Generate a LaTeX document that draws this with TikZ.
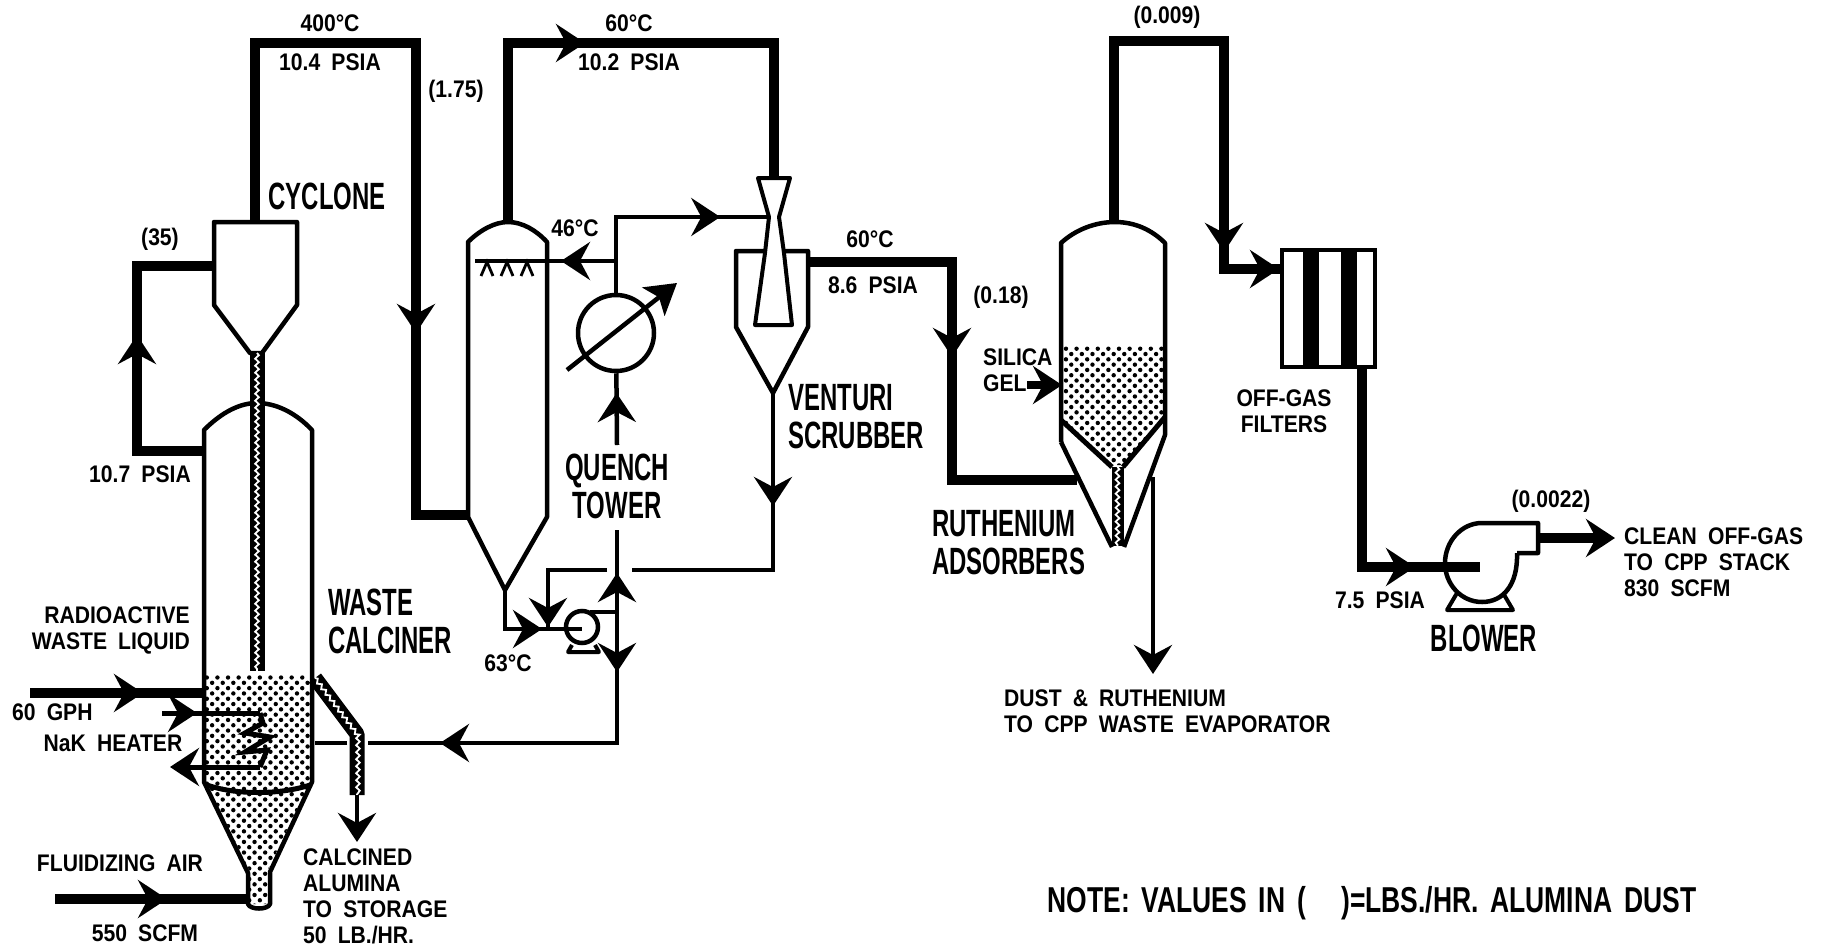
\documentclass[tikz,border=0pt]{standalone}
\usepackage{fontspec}
\usepackage{tikz}
\usetikzlibrary{
    arrows.meta,
    positioning,
    patterns.meta,
    decorations.markings,
    decorations.pathmorphing
}
\newfontfamily\tagfont{Liberation Sans}[FakeStretch=0.88,WordSpace=1.9]
\newfontfamily\bigfont{Liberation Sans}[FakeStretch=0.63]
\newfontfamily\notefont{Liberation Sans}[FakeStretch=0.735,WordSpace=1.6]
\tikzset{flowtip/.tip={Stealth[length=29pt,width=38pt,inset=10pt]}}

\begin{document}
\begin{tikzpicture}[
    x=1pt, y=-1pt,
    tag/.style={inner sep=0pt, align=left, font=\tagfont\bfseries\fontsize{24}{26}\selectfont},
    bigtag/.style={inner sep=0pt, align=left, font=\bigfont\bfseries\fontsize{38}{38}\selectfont},
    vessel/.style={draw, line width=4.5pt, line join=round, fill=white},
    bedfill/.style={pattern={Dots[distance=7.5pt,radius=2.2pt,angle=45]}},
    pipe/.style={draw, line width=10pt, line join=miter},
    flowline/.style={draw, line width=4.5pt, line join=miter},
    solidsline/.style={draw, line width=15pt, line join=round},
    wavy/.style={draw=white, line width=1.8pt, decorate, decoration={snake, amplitude=1.8pt, segment length=7pt}},
    flowmark/.style={postaction={decorate, decoration={markings, mark=at position #1 with {\arrow{flowtip}}}}}
]
\useasboundingbox (0,0) rectangle (1826,948);

% Cyclone
\draw[vessel] (214,222) -- (297,222) -- (297,305) -- (262,353) -- (250,353) -- (214,305) -- cycle;
\coordinate (cycloneTop) at (255,222);
\coordinate (cycloneInlet) at (214,266);
\coordinate (diplegTop) at (257,353);

% Waste calciner
\draw[vessel] (204,782) -- (204,430) .. controls (222,412) and (240,403) .. (257,403)
    .. controls (275,403) and (295,412) .. (312,430) -- (312,782) -- (270,872) -- (270,904)
    .. controls (268,910) and (250,910) .. (248,904) -- (248,873) -- cycle;
\fill[bedfill] (206,675) -- (310,675) -- (310,782) -- (268,870) -- (268,904) -- (250,904) -- (250,872) -- (206,782) -- cycle;
\draw[line width=5pt] (207,785) .. controls (235,795) and (280,795) .. (310,785);
\coordinate (calcinerVent) at (204,451);
\coordinate (ventCorner) at (137,266);
\coordinate (diplegEnd) at (257,671);
\coordinate (calcinerReturn) at (315,743);
\coordinate (chuteTop) at (315,678);
\coordinate (chuteBend) at (357,734);
\coordinate (chuteEnd) at (357,795);
\coordinate (chuteTip) at (357,842);

% Solids lines with the wavy core
\draw[solidsline] (diplegTop) -- (diplegEnd);
\draw[wavy] (diplegTop) -- (diplegEnd);
\draw[solidsline] (chuteTop) -- (chuteBend) -- (chuteEnd);
\draw[wavy] (chuteTop) -- (chuteBend) -- (chuteEnd);
\draw[flowline, -{flowtip}] (chuteEnd) -- (chuteTip);

% Calciner feeds and heater
\coordinate (feedStart) at (30,693);
\coordinate (feedEnd) at (204,693);
\coordinate (airStart) at (55,899);
\coordinate (airEnd) at (247,899);
\coordinate (heaterIn) at (162,713);
\coordinate (heaterTurn) at (260,713);
\coordinate (heaterBack) at (260,767);
\coordinate (heaterOut) at (170,767);
\draw[pipe, flowmark=113pt] (feedStart) -- (feedEnd);
\draw[pipe, flowmark=112pt] (airStart) -- (airEnd);
\draw[line width=5pt, flowmark=35pt] (heaterIn) -- (heaterTurn);
\draw[line width=5pt, line join=miter] (heaterTurn) -- (263,723) -- (245,733) -- (270,737) -- (245,752) -- (267,750) -- (heaterBack);
\draw[line width=5pt, -{flowtip}] (heaterBack) -- (heaterOut);

% Calciner to cyclone to quench tower
\coordinate (hotCorner) at (416,43);
\coordinate (towerInlet) at (468,515);
\draw[pipe, flowmark=183pt] (calcinerVent) -| (ventCorner) -- (cycloneInlet);
\draw[pipe, flowmark=630pt] (cycloneTop) |- (hotCorner) |- (towerInlet);

% Quench tower
\draw[vessel] (468,517) -- (468,242) .. controls (480,230) and (495,222) .. (508,222)
    .. controls (522,222) and (536,230) .. (547,242) -- (547,517) -- (505,590) -- cycle;
\coordinate (towerTop) at (508,222);
\coordinate (towerBottom) at (505,590);
\coordinate (sparger) at (475,261);
\foreach \sx in {487,507,527} {
    \draw[line width=2.8pt] (\sx-6,276) -- (\sx,262) -- (\sx+6,276);
}

% Heat exchanger and quench pump
\node[circle, draw, line width=4.5pt, minimum size=76pt, inner sep=0pt] (exchanger) at (616,333) {};
\draw[line width=4.5pt, -{Stealth[length=30pt,width=36pt,inset=7pt]}] (567,370) -- (677,283);
\node[circle, draw, line width=4.5pt, minimum size=32pt, inner sep=0pt] (pump) at (582,627) {};
\draw[line width=4pt, line join=round] (572,645) -- (568,652) -- (599,652) -- (595,645);
\coordinate (pumpFeed) at (582,629);
\coordinate (pumpOut) at (617,612);
\coordinate (pumpTap) at (590,612);
\coordinate (mixPoint) at (548,629);
\coordinate (risePipe) at (617,530);
\coordinate (riseLow) at (617,445);
\coordinate (returnCorner) at (617,743);
\coordinate (returnGap) at (368,743);
\coordinate (returnWall) at (347,743);
\coordinate (recycleLeft) at (607,570);
\coordinate (recycleRight) at (632,570);
\coordinate (scrubberCorner) at (773,570);
\coordinate (waterCorner) at (616,217);
\coordinate (throat) at (767,217);
\coordinate (sprayBranch) at (616,261);

\draw[flowline, flowmark=76pt] (towerBottom) |- (pumpFeed);
\draw[flowline] (pumpTap) -- (pumpOut);
\draw[flowline, flowmark=39pt] (pumpOut) -- (risePipe);
\draw[flowline, flowmark=60pt, flowmark=308pt] (pumpOut) -- (returnCorner) -- (returnGap);
\draw[flowline] (returnWall) -- (calcinerReturn);
\draw[flowline, flowmark=52pt] (riseLow) -- (exchanger);
\draw[flowline, flowmark=180pt] (exchanger) -- (waterCorner) -- (throat);
\draw[flowline, flowmark=55pt] (sprayBranch) -- (sparger);
\draw[flowline, flowmark=116pt] (recycleLeft) -| (mixPoint);

% Venturi scrubber
\draw[vessel] (736,251) -- (808,251) -- (808,327) -- (773,393) -- (736,327) -- cycle;
\draw[vessel, line width=4pt] (758,178) -- (790,178) -- (779,217) -- (784,253) -- (792,325) -- (755,325) -- (765,253) -- (769,217) -- cycle;
\coordinate (scrubberTop) at (774,178);
\coordinate (scrubberOut) at (808,262);
\coordinate (scrubberBottom) at (773,393);
\draw[pipe, flowmark=256pt] (towerTop) |- (scrubberTop |- hotCorner) -- (scrubberTop);
\draw[flowline, flowmark=113pt] (scrubberBottom) |- (recycleRight);

% Ruthenium adsorbers
\fill[bedfill] (1063,346) -- (1163,346) -- (1163,417) -- (1123,465) -- (1112,465) -- (1063,420) -- cycle;
\draw[line width=4.5pt, line join=round] (1061,442) -- (1061,243) .. controls (1075,230) and (1095,222) .. (1115,222)
    .. controls (1135,222) and (1152,230) .. (1165,243) -- (1165,435) -- (1124,547);
\draw[line width=4.5pt] (1061,442) -- (1112,547);
\draw[line width=5pt] (1061,420) -- (1112,467);
\draw[line width=5pt] (1165,417) -- (1123,467);
\coordinate (stemTop) at (1117.5,467);
\coordinate (stemEnd) at (1117.5,546);
\draw[line width=12pt] (stemTop) -- (stemEnd);
\draw[wavy] (stemTop) -- (stemEnd);
\coordinate (adsorberIn) at (1077,480);
\coordinate (adsorberCorner) at (952,262);
\coordinate (adsorberTop) at (1114,222);
\coordinate (adsorberDrain) at (1153,477);
\coordinate (drainTip) at (1153,674);
\coordinate (silicaStart) at (1027,385);
\coordinate (silicaEnd) at (1062,385);
\draw[pipe, flowmark=239pt] (scrubberOut) -- (adsorberCorner) |- (adsorberIn);
\draw[flowline, -{flowtip}] (adsorberDrain) -- (drainTip);
\draw[line width=8pt, -{flowtip}] (silicaStart) -- (silicaEnd);

% Off-gas filters
\node[draw, line width=4.5pt, minimum width=93pt, minimum height=117pt, inner sep=0pt] (filters) at (1328.5,308.5) {};
\fill (1303,250) rectangle (1319,367);
\fill (1341,250) rectangle (1357,367);
\coordinate (filterCorner) at (1224,41);
\coordinate (filterIn) at (1280,269);
\coordinate (filterOut) at (1362,367);
\draw[pipe, flowmark=502pt, flowmark=574pt] (adsorberTop) |- (filterCorner) |- (filterIn);

% Blower
\draw[line width=4.5pt, line join=round] (1517,553) -- (1538,553) -- (1538,523) -- (1482,523)
    .. controls (1461,523) and (1445,542) .. (1445,563) .. controls (1445,584) and (1461,602) .. (1482,602)
    .. controls (1503,602) and (1518,585) .. (1517,553);
\draw[line width=4pt, line join=round] (1457,593) -- (1447,610) -- (1513,610) -- (1503,593);
\coordinate (blowerIn) at (1480,567);
\coordinate (blowerOut) at (1538,538);
\coordinate (stackTip) at (1615,538);
\draw[pipe, flowmark=253pt] (filterOut) |- (blowerIn);
\draw[pipe, -{flowtip}] (blowerOut) -- (stackTip);

% Labels
\node[tag, anchor=center] (hotTemp) at (330,23) {400°C};
\node[tag, anchor=center, below=22pt of hotTemp] (hotPress) {10.4 PSIA};
\node[tag, anchor=center] (hotDust) at (456,91) {(1.75)};
\node[tag, anchor=center] (towerTemp) at (629,23) {60°C};
\node[tag, anchor=center, below=22pt of towerTemp] (towerPress) {10.2 PSIA};
\node[tag, anchor=center] (ventDust) at (1167,17) {(0.009)};
\node[bigtag, anchor=center] (cycloneTag) at (327,196) {CYCLONE};
\node[tag, anchor=center] (cycloneDust) at (160,239) {(35)};
\node[tag, anchor=center] (calcinerPress) at (140,474) {10.7 PSIA};
\node[tag, anchor=center] (sprayTemp) at (575,228) {46°C};
\node[tag, anchor=center] (scrubberTemp) at (870,239) {60°C};
\node[tag, anchor=center] (scrubberPress) at (873,285) {8.6 PSIA};
\node[tag, anchor=center] (scrubberDust) at (1001,297) {(0.18)};
\node[tag, anchor=west] (silicaTag) at (983,370) {SILICA\\GEL};
\node[bigtag, anchor=west] (venturiTag) at (788,417) {VENTURI\\SCRUBBER};
\node[bigtag, anchor=center, align=center] (quenchTag) at (617,486) {QUENCH\\TOWER};
\node[bigtag, anchor=west] (rutheniumTag) at (932,543) {RUTHENIUM\\ADSORBERS};
\node[tag, anchor=center, align=center] (filterTag) at (1284,411) {OFF-GAS\\FILTERS};
\node[tag, anchor=center] (blowerDust) at (1551,501) {(0.0022)};
\node[tag, anchor=west] (stackTag) at (1624,562) {CLEAN OFF-GAS\\TO CPP STACK\\830 SCFM};
\node[tag, anchor=center] (blowerPress) at (1380,600) {7.5 PSIA};
\node[bigtag, anchor=center] (blowerTag) at (1484,638) {BLOWER};
\node[tag, anchor=west] (dustTag) at (1004,711) {DUST \& RUTHENIUM\\TO CPP WASTE EVAPORATOR};
\node[bigtag, anchor=west] (calcinerTag) at (328,621) {WASTE\\CALCINER};
\node[tag, anchor=east, align=right] (feedTag) at (190,630) {RADIOACTIVE\\WASTE LIQUID};
\node[tag, anchor=west] (feedRate) at (12,712) {60 GPH};
\node[tag, anchor=center] (heaterTag) at (113,743) {NaK HEATER};
\node[tag, anchor=center] (airTag) at (120,863) {FLUIDIZING AIR};
\node[tag, anchor=center] (airRate) at (145,933) {550 SCFM};
\node[tag, anchor=west] (storageTag) at (303,896) {CALCINED\\ALUMINA\\TO STORAGE\\50 LB./HR.};
\node[tag, anchor=center] (pumpTemp) at (508,663) {63°C};
\node[anchor=center, inner sep=0pt, font=\notefont\bfseries\fontsize{36}{36}\selectfont] (noteTag) at (1372,903) {NOTE: VALUES IN ( \ \ )=LBS./HR. ALUMINA DUST};
\end{tikzpicture}
\end{document}
